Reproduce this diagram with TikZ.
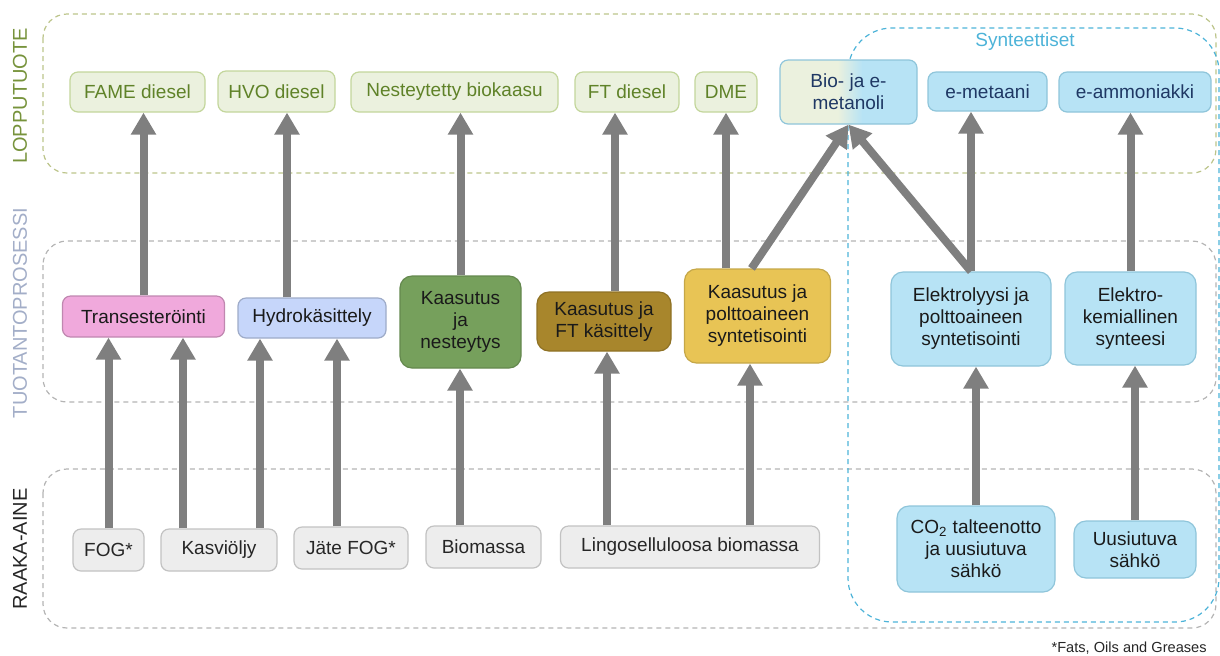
\documentclass[tikz,border=0pt]{standalone}
\usepackage{fontspec}
\setmainfont{Liberation Sans}
\usetikzlibrary{arrows.meta}

\definecolor{prodfill}{HTML}{EBF1DE}
\definecolor{prodline}{HTML}{C3D69B}
\definecolor{prodtext}{HTML}{5F8228}
\definecolor{synfill}{HTML}{B7E3F5}
\definecolor{synline}{HTML}{8FC5DA}
\definecolor{syntext}{HTML}{1F3864}
\definecolor{rawfill}{HTML}{EDEDED}
\definecolor{rawline}{HTML}{C2C2C2}
\definecolor{rawtext}{HTML}{262626}
\definecolor{proctext}{HTML}{1A1A1A}
\definecolor{transfill}{HTML}{F0A9DC}
\definecolor{hydrofill}{HTML}{C6D6FA}
\definecolor{nestfill}{HTML}{76A05C}
\definecolor{ftfill}{HTML}{A8862C}
\definecolor{synpfill}{HTML}{E8C455}
\definecolor{arrgray}{HTML}{7F7F7F}
\definecolor{bandgray}{HTML}{B4B4B4}
\definecolor{bandolive}{HTML}{BCC48A}
\definecolor{synblue}{HTML}{4DB3D8}
\definecolor{lopcol}{HTML}{77933C}
\definecolor{tuocol}{HTML}{A3AEC8}

\pgfdeclarehorizontalshading{metgrad}{100bp}{color(0bp)=(prodfill); color(46bp)=(prodfill); color(55bp)=(synfill); color(100bp)=(synfill)}

\tikzset{
  box/.style={rounded corners=4pt, align=center, inner sep=1pt, line width=0.6pt,
    font=\fontsize{9.5}{11}\selectfont},
  prod/.style={box, fill=prodfill, draw=prodline, text=prodtext},
  syn/.style={box, fill=synfill, draw=synline, text=syntext},
  raw/.style={box, fill=rawfill, draw=rawline, text=rawtext},
  proc/.style={box, rounded corners=6pt, text=proctext},
  band/.style={line width=0.6pt, dash pattern=on 2.5pt off 2pt, rounded corners=12pt},
  side/.style={rotate=90, font=\fontsize{10}{12}\selectfont},
  arr/.style={draw=arrgray, line width=4pt, -{Triangle[width=12pt,length=11pt]}}
}

\begin{document}
\begin{tikzpicture}[x=0.5pt, y=-0.5pt]
  \useasboundingbox (0,0) rectangle (1220,655);

  % bands
  \draw[band, draw=bandolive] (43,14) rectangle (1216,173);
  \draw[band, draw=bandgray] (43,241) rectangle (1216,402);
  \draw[band, draw=bandgray] (43,469) rectangle (1216,628);
  \draw[band, draw=synblue, rounded corners=22pt] (848,28) rectangle (1219,622);

  \draw
    (20,96) node[side, text=lopcol] (lop) {LOPPUTUOTE}
    (20,313) node[side, text=tuocol] (tuo) {TUOTANTOPROSESSI}
    (20,549) node[side, text=rawtext] (raa) {RAAKA-AINE}
    (1025,42) node[text=synblue, font=\fontsize{9.5}{11}\selectfont] (synt) {Synteettiset}
    (1207,648) node[anchor=east, text=rawtext, font=\fontsize{7.3}{9}\selectfont, inner sep=0pt] (note) {*Fats, Oils and Greases};

  % end products
  \draw
    (137.5,92) node[prod, minimum width=67.5pt, minimum height=20pt] (fame) {FAME diesel}
    (276.5,91.5) node[prod, minimum width=58.5pt, minimum height=20.5pt] (hvo) {HVO diesel}
    (454.5,92) node[prod, minimum width=103.5pt, minimum height=20pt] (nest) {Nesteytetty biokaasu}
    (627,92) node[prod, minimum width=52pt, minimum height=20pt] (ftd) {FT diesel}
    (726,92) node[prod, minimum width=31pt, minimum height=20pt] (dme) {DME}
    (848.5,92) node[box, draw=synline, text=syntext, shading=metgrad, minimum width=68.5pt, minimum height=32pt] (met) {Bio- ja e-\\metanoli}
    (987.5,91.5) node[syn, minimum width=59.5pt, minimum height=19.5pt] (emet) {e-metaani}
    (1135,92) node[syn, minimum width=76pt, minimum height=20pt] (eamm) {e-ammoniakki};

  % processes
  \draw
    (143.5,316.5) node[box, fill=transfill, draw=transfill!80!black, text=proctext, minimum width=81pt, minimum height=20.5pt] (trans) {Transesteröinti}
    (312,318) node[box, fill=hydrofill, draw=hydrofill!80!black, text=proctext, minimum width=74pt, minimum height=20pt] (hydro) {Hydrokäsittely}
    (460.5,322) node[proc, fill=nestfill, draw=nestfill!85!black, minimum width=60.5pt, minimum height=46pt] (kaasn) {Kaasutus\\ja\\nesteytys}
    (604,321.5) node[proc, fill=ftfill, draw=ftfill!85!black, minimum width=67pt, minimum height=29.5pt] (kaasft) {Kaasutus ja\\FT käsittely}
    (757.5,316) node[proc, fill=synpfill, draw=synpfill!85!black, minimum width=73pt, minimum height=47pt] (kaasp) {Kaasutus ja\\polttoaineen\\syntetisointi}
    (971,319) node[syn, rounded corners=6pt, text=proctext, minimum width=80pt, minimum height=47pt] (elek) {Elektrolyysi ja\\polttoaineen\\syntetisointi}
    (1130.5,318.5) node[syn, rounded corners=6pt, text=proctext, minimum width=65.5pt, minimum height=46.5pt] (ekem) {Elektro-\\kemiallinen\\synteesi};

  % raw materials
  \draw
    (108.5,550) node[raw, minimum width=35.5pt, minimum height=21pt] (fog) {FOG*}
    (219,550) node[raw, minimum width=58pt, minimum height=21pt] (kasvi) {Kasviöljy}
    (351,548) node[raw, minimum width=57pt, minimum height=21pt] (jate) {Jäte FOG*}
    (483.5,547) node[raw, minimum width=57.5pt, minimum height=21pt] (bio) {Biomassa}
    (690,547) node[raw, minimum width=129.5pt, minimum height=21pt] (lingo) {Lingoselluloosa biomassa}
    (976,549) node[syn, rounded corners=6pt, text=proctext, minimum width=79pt, minimum height=43pt] (co2) {CO\textsubscript{2} talteenotto\\ja uusiutuva\\sähkö}
    (1135,549.5) node[syn, rounded corners=6pt, text=proctext, minimum width=61pt, minimum height=28.5pt] (uusi) {Uusiutuva\\sähkö};

  \begin{scope}[arr]
    \draw (fog.north) to (fog.north |- trans.south);
    \draw ([xshift=-18pt]kasvi.north) to ([xshift=-18pt]kasvi.north |- trans.south);
    \draw ([xshift=20.5pt]kasvi.north) to ([xshift=20.5pt]kasvi.north |- hydro.south);
    \draw ([xshift=-7pt]jate.north) to ([xshift=-7pt]jate.north |- hydro.south);
    \draw (trans.north) to (trans.north |- fame.south);
    \draw ([xshift=-12.5pt]hydro.north) to ([xshift=-12.5pt]hydro.north |- hvo.south);
    \draw ([xshift=-11.75pt]bio.north) to ([xshift=-11.75pt]bio.north |- kaasn.south);
    \draw (kaasn.north) to (kaasn.north |- nest.south);
    \draw ([xshift=-41.5pt]lingo.north) to ([xshift=-41.5pt]lingo.north |- kaasft.south);
    \draw ([xshift=5.5pt]kaasft.north) to ([xshift=5.5pt]kaasft.north |- ftd.south);
    \draw ([xshift=30pt]lingo.north) to ([xshift=30pt]lingo.north |- kaasp.south);
    \draw ([xshift=-15.75pt]kaasp.north) to ([xshift=-15.75pt]kaasp.north |- dme.south);
    \draw ([xshift=-3pt]kaasp.north) to (met.south);
    \draw (elek.north) to (met.south);
    \draw (elek.north) to (elek.north |- emet.south);
    \draw (co2.north) to (co2.north |- elek.south);
    \draw (uusi.north) to (uusi.north |- ekem.south);
    \draw (ekem.north) to (ekem.north |- eamm.south);
  \end{scope}
\end{tikzpicture}
\end{document}
